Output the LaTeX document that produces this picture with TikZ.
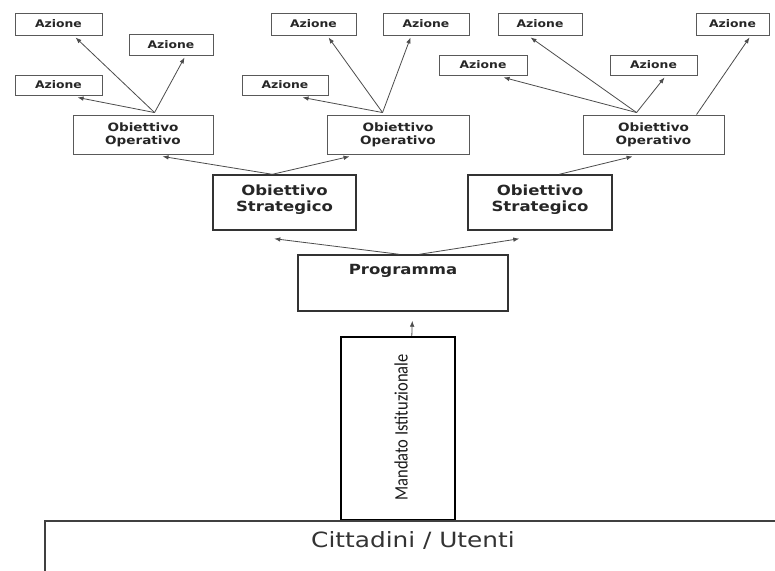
\documentclass[tikz,border=0pt]{standalone}
\usepackage{fontspec}
\usepackage{graphicx}
\setmainfont{DejaVu Sans}
\newfontfamily\vbfont[FakeStretch=1.18]{DejaVu Sans}
\newfontfamily\mandfont{Carlito}
\usetikzlibrary{arrows.meta,calc}
\tikzset{
  azbox/.style={draw=black!65, line width=0.9pt, inner sep=0pt, text=black!85,
    font=\vbfont\bfseries\fontsize{10.5}{12}\selectfont},
  oobox/.style={draw=black!65, line width=0.9pt, inner sep=0pt, text=black!85, align=center,
    font=\vbfont\bfseries\fontsize{11.5}{13}\selectfont},
  osbox/.style={draw=black!80, line width=1.4pt, inner sep=0pt},
  bigtext/.style={inner sep=0pt, text=black!85, align=center,
    font=\vbfont\bfseries\fontsize{14}{16}\selectfont},
  mandbox/.style={draw=black, line width=2.4pt, inner sep=0pt},
  citbox/.style={draw=black!75, line width=1.8pt, inner sep=0pt},
  arr/.style={draw=black!70, line width=0.8pt, -{Latex[length=6pt,width=4.5pt]}}
}
\begin{document}
\begin{tikzpicture}[x=1pt,y=-1pt]
\useasboundingbox (0,0) rectangle (775,570);
\clip (0,0) rectangle (775,570);
\fill[white] (0,0) rectangle (775,570);

% group 1
\node[azbox, minimum width=87pt, minimum height=22pt] (a11) at (58.5,24) {Azione};
\node[azbox, minimum width=84pt, minimum height=21pt] (a12) at (171,44.5) {Azione};
\node[azbox, minimum width=87pt, minimum height=20pt] (a13) at (58.5,85) {Azione};
\node[oobox, minimum width=140pt, minimum height=39pt] (oo1) at (143,134.5) {Obiettivo\\Operativo};
% group 2
\node[azbox, minimum width=85pt, minimum height=22pt] (a21) at (313.5,24) {Azione};
\node[azbox, minimum width=86pt, minimum height=22pt] (a22) at (426,24) {Azione};
\node[azbox, minimum width=86pt, minimum height=20pt] (a23) at (285,85) {Azione};
\node[oobox, minimum width=142pt, minimum height=39pt] (oo2) at (398,134.5) {Obiettivo\\Operativo};
% group 3
\node[azbox, minimum width=84pt, minimum height=22pt] (a31) at (540,24) {Azione};
\node[azbox, minimum width=88pt, minimum height=20pt] (a32) at (483,65) {Azione};
\node[azbox, minimum width=87pt, minimum height=20pt] (a33) at (653.5,65) {Azione};
\node[azbox, minimum width=73pt, minimum height=22pt] (a34) at (732.5,24) {Azione};
\node[oobox, minimum width=141pt, minimum height=39pt] (oo3) at (653.5,134.5) {Obiettivo\\Operativo};

% strategic
\node[osbox, minimum width=143pt, minimum height=55pt] (os1) at (284.5,202.5) {};
\node[bigtext] (os1t) at (284.5,199.5) {Obiettivo\\Strategico};
\node[osbox, minimum width=144pt, minimum height=55pt] (os2) at (540,202.5) {};
\node[bigtext] (os2t) at (540,199.5) {Obiettivo\\Strategico};

% programma
\node[osbox, minimum width=210pt, minimum height=56pt] (prog) at (403,283) {};
\node[bigtext, anchor=base] (progt) at (403,274) {Programma};

% mandato
\node[mandbox, minimum width=114pt, minimum height=183pt] (mand) at (398,428.5) {};
\node[rotate=90, inner sep=0pt, text=black!90, font=\mandfont\fontsize{16.5}{18}\selectfont] (mandt) at (401,427.5) {\scalebox{1}[1.15]{Mandato Istituzionale}};

% cittadini
\node[citbox, anchor=north west, minimum width=780pt, minimum height=90pt] (citt) at (44,520) {};
\node[inner sep=0pt, anchor=base, text=black!80, font=\vbfont\fontsize{21}{24}\selectfont] (cittt) at (413,547) {Cittadini / Utenti};

% fan points
\coordinate (f1) at ($(oo1.north west)+(82,-2)$);
\coordinate (f2) at ($(oo2.north west)+(56,-2)$);
\coordinate (f3) at ($(oo3.north west)+(54,-2)$);
\coordinate (s1) at ($(os1.north west)+(60,0)$);
\coordinate (s2) at ($(os2.north west)+(92,0)$);
\coordinate (p1) at ($(prog.north west)+(102,0)$);
\coordinate (p2) at ($(prog.north west)+(122,0)$);

% arrows group 1
\draw[arr] (f1) -- ($(a11.south west)+(61,2)$);
\draw[arr] (f1) -- ($(a12.south west)+(56,2)$);
\draw[arr] (f1) -- ($(a13.south west)+(63,2)$);
% group 2
\draw[arr] (f2) -- ($(a21.south west)+(58,2)$);
\draw[arr] (f2) -- ($(a22.south west)+(28,2)$);
\draw[arr] (f2) -- ($(a23.south west)+(61,2)$);
% group 3
\draw[arr] (f3) -- ($(a31.south west)+(33,2)$);
\draw[arr] (f3) -- ($(a32.south west)+(65,2)$);
\draw[arr] (f3) -- ($(a33.south west)+(55,2)$);
\draw[arr] ($(oo3.north west)+(114,0)$) -- ($(a34.south west)+(54,2)$);
% strategic to operative
\draw[arr] (s1) -- ($(oo1.south west)+(90,2)$);
\draw[arr] (s1) -- ($(oo2.south west)+(23,2)$);
\draw[arr] (s2) -- ($(oo3.south west)+(50,2)$);
% programma to strategic
\draw[arr] (p1) -- ($(os1.south west)+(62,8)$);
\draw[arr] (p2) -- ($(os2.south west)+(52,8)$);
% mandato to programma
\draw[arr] ($(mand.north west)+(72,0)$) -- ($(prog.south west)+(115,9)$);
\end{tikzpicture}
\end{document}
